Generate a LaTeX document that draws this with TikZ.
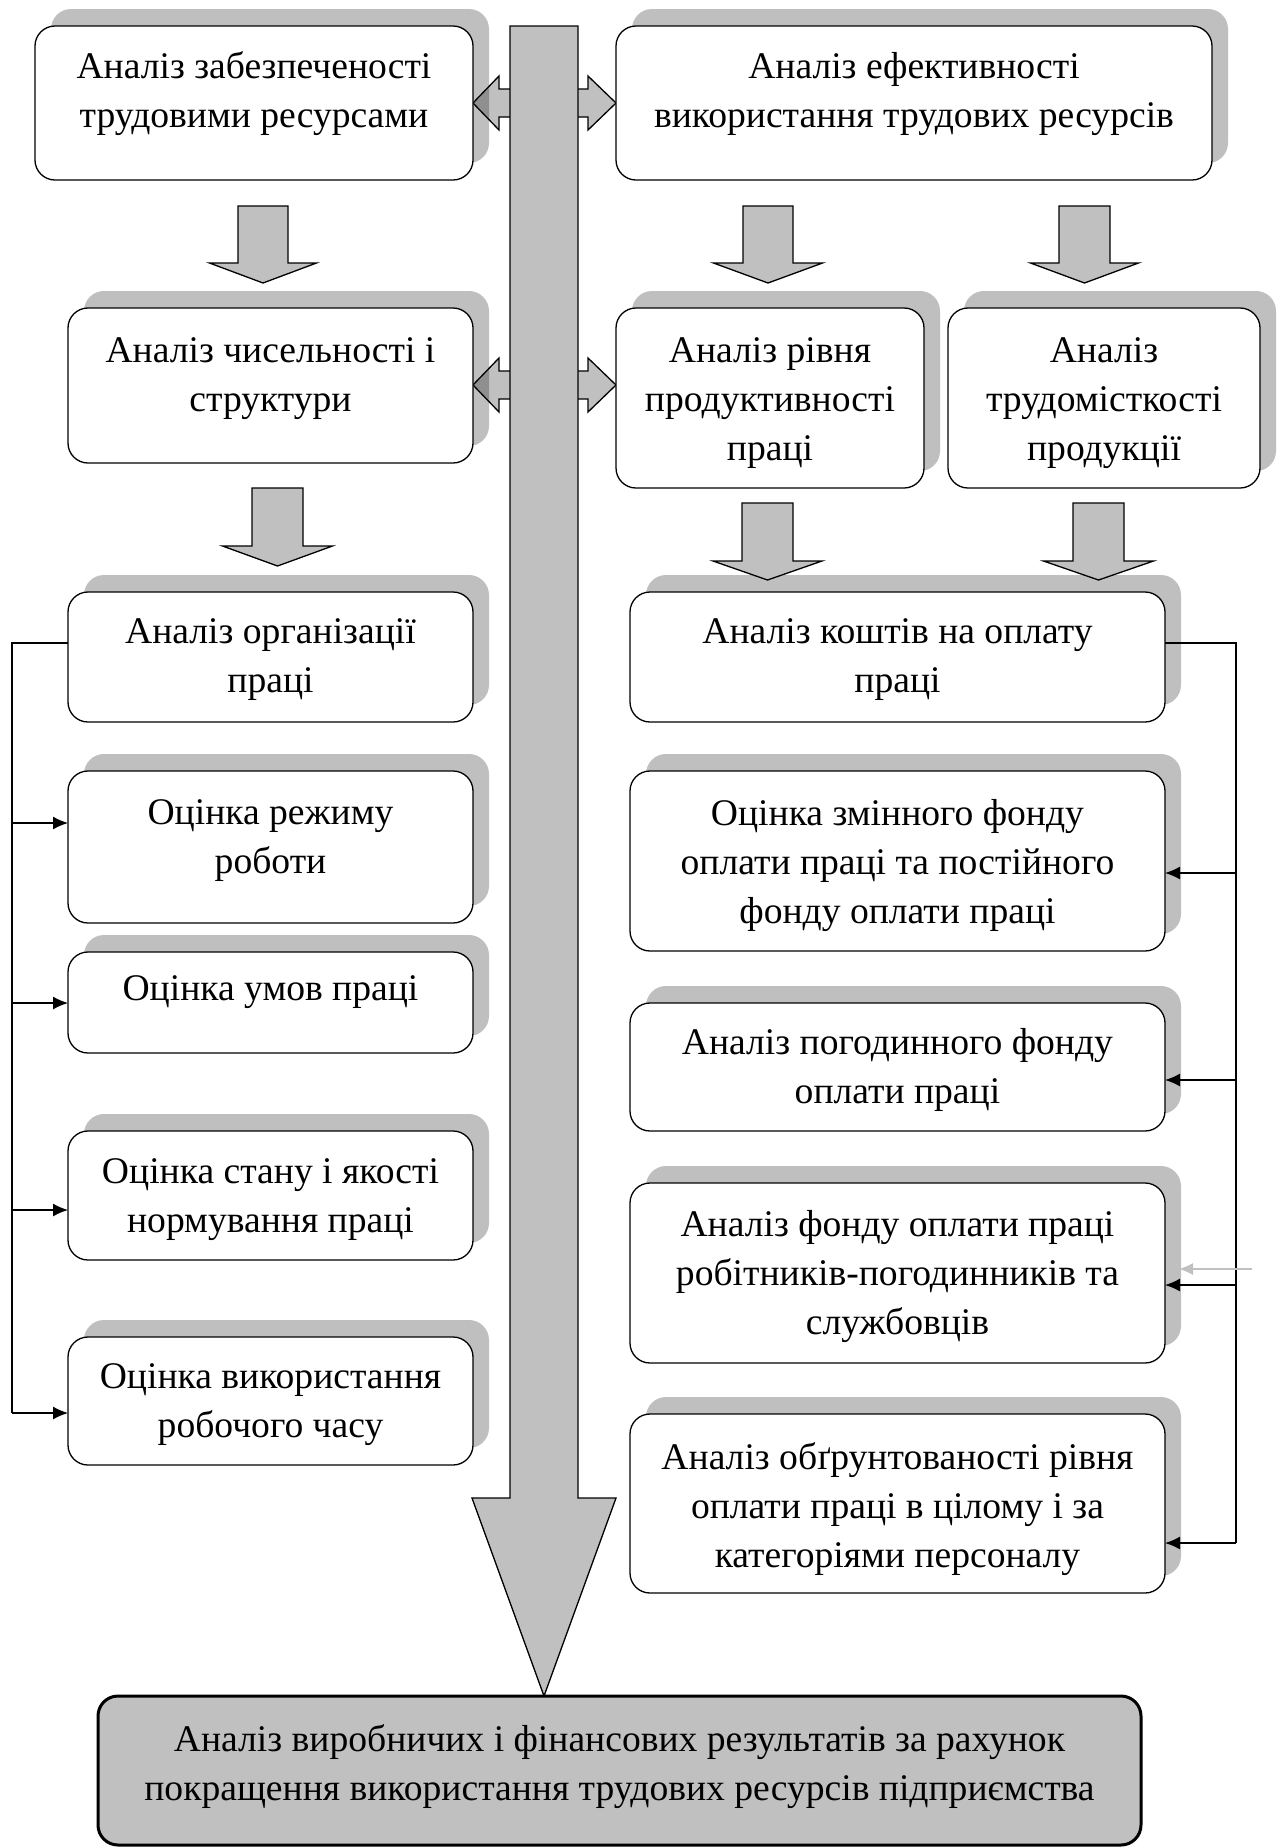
\documentclass[tikz,border=0pt]{standalone}
\usepackage{fontspec}
\setmainfont{Liberation Serif}
\usetikzlibrary{arrows.meta,fit}
\definecolor{fillgray}{RGB}{192,192,192}
\newcommand\st{\rule[-0.27em]{0pt}{1em}}
\newcommand\tbox[7]{%
  \fill[shadowst] (#2+16,#3-17) rectangle (#4+16,#5-17);
  \node[boxst, fit={(#2,#3) (#4,#5)}] (#1) {};
  \node[txt] (#1t) at ({(#2+#4)/2},#6+2) {#7};
}
\newcommand\blockdown[6]{%
  \path[blockst] (#1-#2,#4) -- (#1+#2,#4) -- (#1+#2,#5) -- (#1+#3,#5) -- (#1,#6) -- (#1-#3,#5) -- (#1-#2,#5) -- cycle;
}
\newcommand\dblarrow[1]{%
  \path[blockst] (473,#1) -- (499,#1-27) -- (499,#1-14) -- (588,#1-14) -- (588,#1-27) -- (616,#1) -- (588,#1+27) -- (588,#1+14) -- (499,#1+14) -- (499,#1+27) -- cycle;
}
\begin{document}
\begin{tikzpicture}[x=0.5pt,y=-0.5pt,
  boxst/.style={draw=black, line width=0.65pt, fill=white, rounded corners=10pt, inner sep=0pt, outer sep=0pt},
  shadowst/.style={fill=black, fill opacity=0.25, rounded corners=10pt},
  txt/.style={font=\fontsize{18.8}{24.5}\selectfont, align=center, inner sep=0pt},
  blockst/.style={draw=black, line width=0.65pt, fill=fillgray, line join=miter},
  conn/.style={draw=black, line width=0.65pt},
  tip/.style={-{Latex[length=7.5pt,width=6.5pt]}},
  graytip/.style={draw=fillgray, line width=0.6pt, -{Latex[length=7pt,width=6pt]}}]

\useasboundingbox (0,0) rectangle (1278,1848);

% double arrows behind the main arrow
\dblarrow{103}
\dblarrow{385}

% main arrow
\path[blockst] (510,26) -- (578,26) -- (578,1498) -- (616,1498) -- (544,1696) -- (472,1498) -- (510,1498) -- cycle;

% left column
\tbox{L1}{35}{26}{473}{180}{92}{\st Аналіз забезпеченості\\\st трудовими ресурсами}
\tbox{L2}{68}{308}{473}{463}{376}{\st Аналіз чисельності і\\\st структури}
\tbox{L3}{68}{592}{473}{722}{657}{\st Аналіз організації\\\st праці}
\tbox{L4}{68}{771}{473}{923}{838}{\st Оцінка режиму\\\st роботи}
\tbox{L5}{68}{952}{473}{1053}{990}{\st Оцінка умов праці}
\tbox{L6}{68}{1131}{473}{1260}{1197}{\st Оцінка стану і якості\\\st нормування праці}
\tbox{L7}{68}{1337}{473}{1465}{1402}{\st Оцінка використання\\\st робочого часу}

% right column
\tbox{R1}{616}{26}{1212}{180}{92}{\st Аналіз ефективності\\\st використання трудових ресурсів}
\tbox{R2a}{616}{308}{924}{488}{401}{\st Аналіз рівня\\\st продуктивності\\\st праці}
\tbox{R2b}{948}{308}{1260}{488}{401}{\st Аналіз\\\st трудомісткості\\\st продукції}
\tbox{R3}{630}{592}{1165}{722}{657}{\st Аналіз коштів на оплату\\\st праці}
\tbox{R4}{630}{771}{1165}{951}{864}{\st Оцінка змінного фонду\\\st оплати праці та постійного\\\st фонду оплати праці}
\tbox{R5}{630}{1003}{1165}{1131}{1068}{\st Аналіз погодинного фонду\\\st оплати праці}
\tbox{R6}{630}{1183}{1165}{1363}{1275}{\st Аналіз фонду оплати праці\\\st робітників-погодинників та\\\st службовців}
\tbox{R7}{630}{1414}{1165}{1593}{1508}{\st Аналіз обґрунтованості рівня\\\st оплати праці в цілому і за\\\st категоріями персоналу}

% bottom box
\node[boxst, fill=fillgray, line width=1.5pt, fit={(98,1696) (1141,1845)}] (B) {};
\node[txt] (Bt) at (619.5,1767) {\st Аналіз виробничих і фінансових результатів за рахунок\\\st покращення використання трудових ресурсів підприємства};

% block arrows
\blockdown{263}{25}{53.5}{206}{263}{283}
\blockdown{277.5}{25.5}{55}{488}{546}{566}
\blockdown{768}{25}{54.5}{206}{263}{283}
\blockdown{1084.5}{25.5}{54}{206}{263}{283}
\blockdown{767.5}{25.5}{54.5}{503}{561}{580}
\blockdown{1098.5}{25.5}{55}{503}{561}{580}

% left bracket
\coordinate (lb0) at (12,643);
\coordinate (lb1) at (12,823);
\coordinate (lb2) at (12,1003);
\coordinate (lb3) at (12,1210);
\coordinate (lb4) at (12,1413);
\draw[conn] ([yshift=7pt]L3.west) -- (lb0) -- (lb4);
\draw[conn,tip] (lb1) -- (L4.west |- lb1);
\draw[conn,tip] (lb2) -- (L5.west |- lb2);
\draw[conn,tip] (lb3) -- (L6.west |- lb3);
\draw[conn,tip] (lb4) -- (L7.west |- lb4);

% right bracket
\coordinate (rb0) at (1236,643);
\coordinate (rb1) at (1236,873);
\coordinate (rb2) at (1236,1080);
\coordinate (rb3) at (1236,1285);
\coordinate (rb4) at (1236,1543);
\draw[conn] ([yshift=7pt]R3.east) -- (rb0) -- (rb4);
\draw[conn,tip] (rb1) -- (R4.east |- rb1);
\draw[conn,tip] (rb2) -- (R5.east |- rb2);
\draw[conn,tip] (rb3) -- (R6.east |- rb3);
\draw[conn,tip] (rb4) -- (R7.east |- rb4);

% stray grey arrow
\coordinate (g1) at (1252,1269);
\coordinate (g2) at ([xshift=7pt]R6.east |- g1);
\draw[graytip] (g1) -- (g2);
\end{tikzpicture}
\end{document}
